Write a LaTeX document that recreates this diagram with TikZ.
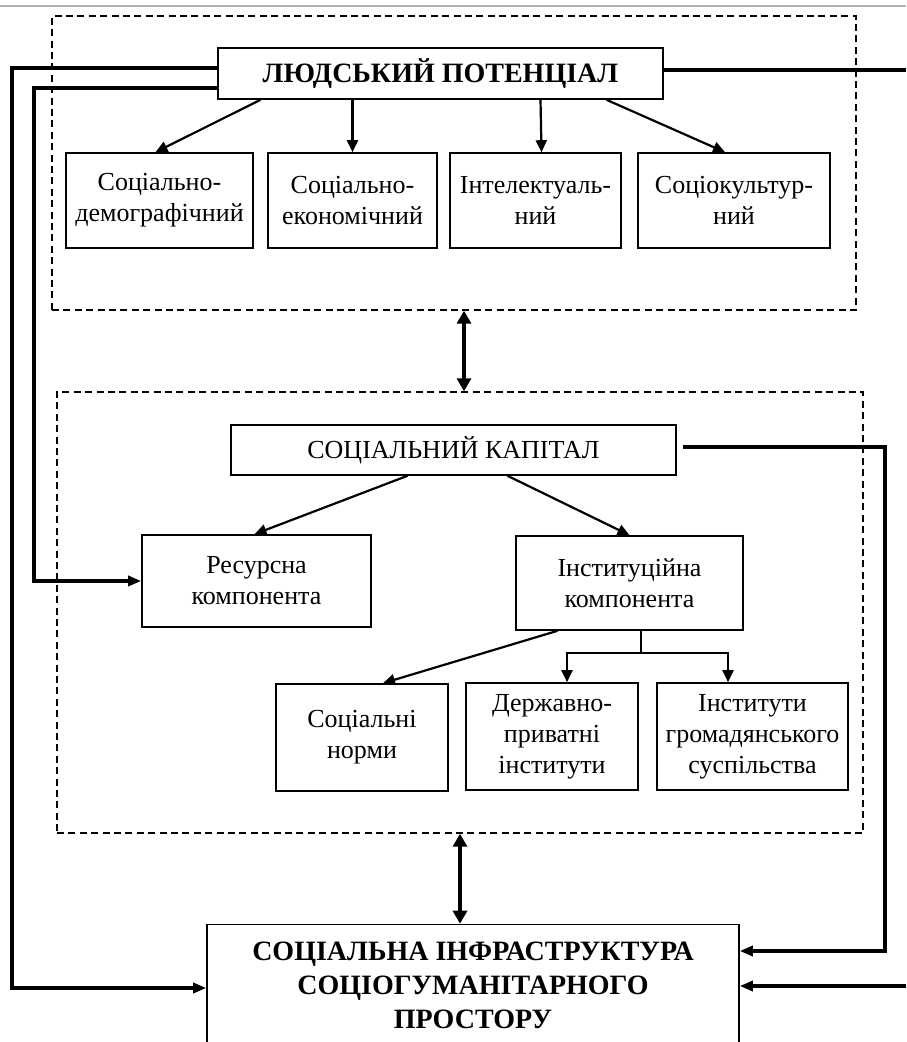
\documentclass[tikz,border=0pt]{standalone}
\usepackage{fontspec}
\setmainfont{Liberation Serif}
\usetikzlibrary{arrows.meta}

\begin{document}
\begin{tikzpicture}[x=0.5pt,y=-0.5pt,
	box/.style={draw,line width=0.8pt,align=center,inner sep=0pt,font=\fontsize{13}{15.5}\selectfont},
	frame/.style={draw,dash pattern=on 3.5pt off 2.2pt,line width=0.7pt,inner sep=0pt},
	arr/.style={line width=1.1pt,-{Triangle[length=6pt,width=5.5pt]}},
	link/.style={line width=1.6pt},
	feed/.style={link,-{Triangle[length=6.5pt,width=5pt]}},
	dbl/.style={line width=2.2pt,{Triangle[length=6.5pt,width=7pt]}-{Triangle[length=6.5pt,width=7pt]}}]
	\clip (0,0) rectangle (906,1042);
	\draw[gray!60,line width=0.8pt] (0,6) -- (906,6);
	% dashed frames
	\node[frame,minimum width=402pt,minimum height=147pt] (top) at (454,163) {};
	\node[frame,minimum width=403pt,minimum height=220.5pt] (mid) at (460,612.5) {};
	% human potential
	\node[box,minimum width=222.5pt,minimum height=25.5pt,font=\fontsize{14}{16}\selectfont\bfseries] (lp) at (440.5,73.5) {ЛЮДСЬКИЙ ПОТЕНЦІАЛ};
	\node[box,minimum width=93.5pt,minimum height=47.5pt] (d1) at (159.5,200.5) {Соціально-\\демографічний};
	\node[box,minimum width=84.5pt,minimum height=47.5pt] (d2) at (352.5,200.5) {Соціально-\\економічний};
	\node[box,minimum width=85.5pt,minimum height=47.5pt] (d3) at (535.5,200.5) {Інтелектуаль-\\ний};
	\node[box,minimum width=96pt,minimum height=47.5pt] (d4) at (734,200.5) {Соціокультур-\\ний};
	\draw[arr] ([xshift=-90pt]lp.south) -- ([xshift=-2pt]d1.north);
	\draw[arr] (d2.north |- lp.south) -- (d2.north);
	\draw[arr] ([xshift=50pt]lp.south) -- ([xshift=3pt]d3.north);
	\draw[arr] ([xshift=83pt]lp.south) -- ([xshift=-4.5pt]d4.north);
	% social capital
	\node[box,minimum width=222.5pt,minimum height=25pt] (sk) at (453.5,450) {СОЦІАЛЬНИЙ КАПІТАЛ};
	\node[box,minimum width=114.5pt,minimum height=46pt] (rk) at (256.5,581) {Ресурсна\\компонента};
	\node[box,minimum width=113.5pt,minimum height=47pt] (ik) at (629.5,583) {Інституційна\\компонента};
	\node[box,minimum width=86pt,minimum height=53.5pt] (sn) at (362,737.5) {Соціальні\\норми};
	\node[box,minimum width=86pt,minimum height=53.5pt] (dp) at (552,736.5) {Державно-\\приватні\\інститути};
	\node[box,minimum width=95.5pt,minimum height=53.5pt] (ig) at (752.5,736.5) {Інститути\\громадянського\\суспільства};
	\draw[arr] ([xshift=-23pt]sk.south) -- ([xshift=-1pt]rk.north);
	\draw[arr] ([xshift=27pt]sk.south) -- (ik.north);
	\draw[arr] ([xshift=-36pt]ik.south) -- ([xshift=10.5pt]sn.north);
	\coordinate (j) at (641,653);
	\draw[line width=0.8pt] ([xshift=5.75pt]ik.south) -- (j);
	\draw[arr] (j) -| ([xshift=7.5pt]dp.north);
	\draw[arr] (j) -| ([xshift=-12.25pt]ig.north);
	% infrastructure
	\node[box,minimum width=266pt,minimum height=61pt,font=\fontsize{14}{17}\selectfont\bfseries] (si) at (473,985.5) {СОЦІАЛЬНА ІНФРАСТРУКТУРА\\СОЦІОГУМАНІТАРНОГО\\ПРОСТОРУ};
	\draw[dbl] ([xshift=5pt]top.south) -- ([xshift=2pt]mid.north);
	\draw[dbl] (mid.south) -- (mid.south |- si.north);
	% feedback lines
	\coordinate (lo) at (12,988);
	\coordinate (li) at (34,581);
	\coordinate (ro) at (906,70);
	\coordinate (rs) at (885,951);
	\coordinate (rb) at (906,986);
	\draw[feed] ([yshift=2.75pt]lp.west) -| (lo) -- (lo -| si.west);
	\draw[feed] ([yshift=-7.25pt]lp.west) -| (li) -- (rk.west);
	\draw[link] ([yshift=1.75pt]lp.east) -- (ro);
	\draw[feed] ([xshift=3pt,yshift=1.5pt]sk.east) -| (rs) -- (rs -| si.east);
	\draw[feed] (rb) -- (rb -| si.east);
\end{tikzpicture}
\end{document}
